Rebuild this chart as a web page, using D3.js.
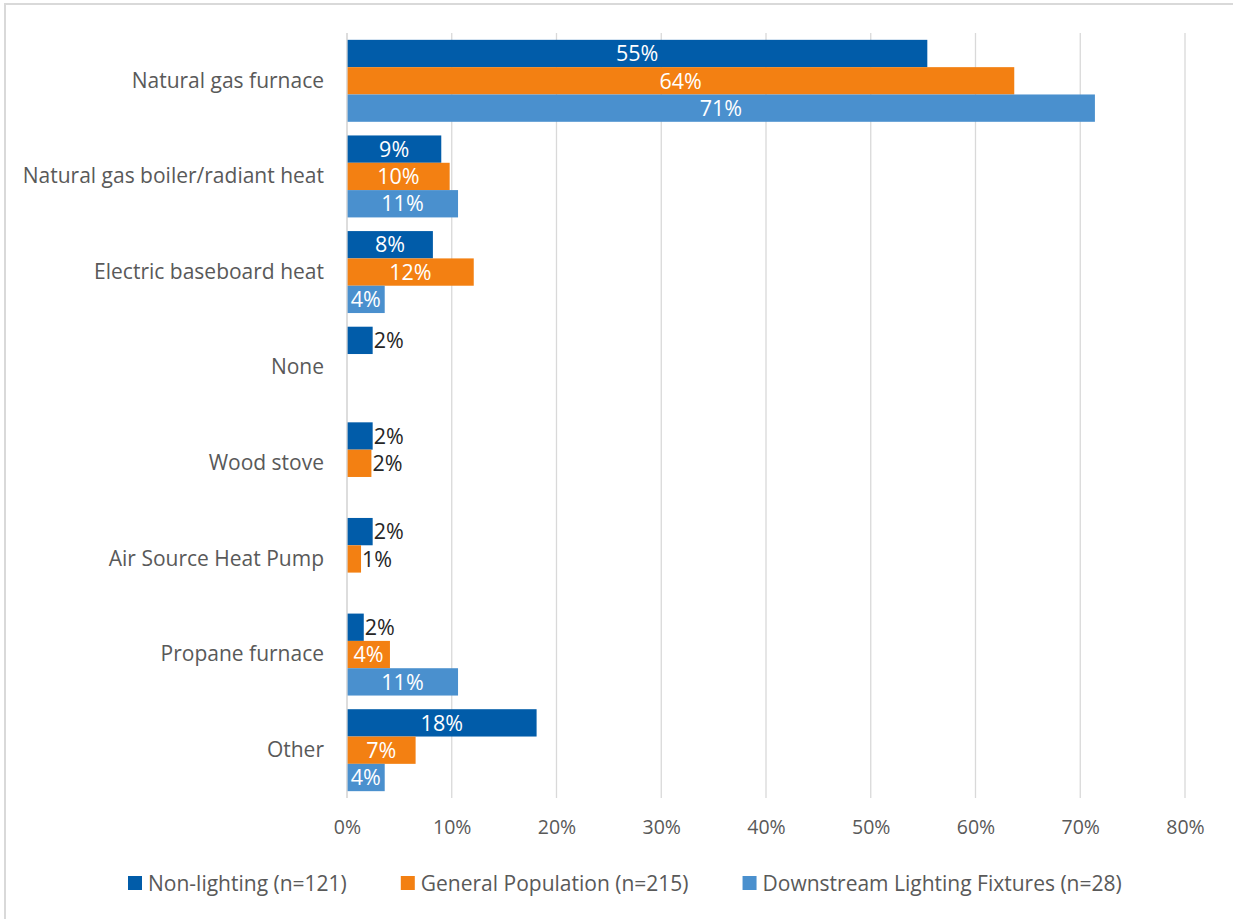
<!DOCTYPE html>
<html>
<head>
<meta charset="utf-8">
<script src="https://cdn.jsdelivr.net/npm/d3@7"></script>
<style>
  html, body { margin: 0; padding: 0; background: #fff; }
  svg { display: block; }
  text { font-family: "Open Sans", Lato, sans-serif; }
</style>
</head>
<body>
<svg id="chart" width="1233" height="919"></svg>
<script>
const categories = [
  "Natural gas furnace",
  "Natural gas boiler/radiant heat",
  "Electric baseboard heat",
  "None",
  "Wood stove",
  "Air Source Heat Pump",
  "Propane furnace",
  "Other"
];
const seriesNames = [
  "Non-lighting (n=121)",
  "General Population (n=215)",
  "Downstream Lighting Fixtures (n=28)"
];
const nonLighting   = [0.554, 0.090, 0.082, 0.0245, 0.0245, 0.0245, 0.016, 0.181];
const generalPop    = [0.637, 0.098, 0.121, null,   0.0233, 0.0134, 0.041, 0.0655];
const downstream    = [0.714, 0.106, 0.036, null,   null,   null,   0.106, 0.036];
const seriesValues = [nonLighting, generalPop, downstream];
const colors = ["#015CA9", "#F38012", "#4A90CE"];
const xTicks = [0, 0.1, 0.2, 0.3, 0.4, 0.5, 0.6, 0.7, 0.8];

const FONT = '"Open Sans", Lato, sans-serif';
const svg = d3.select("#chart");

// outer border
svg.append("rect")
  .attr("x", 5).attr("y", 4).attr("width", 1240).attr("height", 930)
  .attr("fill", "#fff").attr("stroke", "#D9D9D9").attr("stroke-width", 2);

const plot = { left: 347, right: 1185, top: 33, bottom: 798 };

const x = d3.scaleLinear().domain([0, 0.8]).range([plot.left, plot.right]);
const y0 = d3.scaleBand().domain(categories).range([plot.top, plot.bottom]).padding(0);
const y1 = d3.scaleBand().domain(d3.range(3)).range([0, y0.bandwidth()]).paddingInner(0).paddingOuter(0.25);

// gridlines
svg.append("g").selectAll("line").data(xTicks).join("line")
  .attr("x1", d => x(d)).attr("x2", d => x(d))
  .attr("y1", plot.top).attr("y2", plot.bottom)
  .attr("stroke", "#D9D9D9").attr("stroke-width", 1.3);

// x axis tick labels
const xAxis = d3.axisBottom(x).tickValues(xTicks).tickFormat(d3.format(".0%")).tickSize(0).tickPadding(0);
const gx = svg.append("g").attr("transform", `translate(0, ${plot.bottom + 22})`).call(xAxis);
gx.select(".domain").remove();
gx.selectAll("text").attr("fill", "#595959").attr("font-size", 19.5).attr("dy", "0.71em")
  .style("font-family", FONT);

// y axis category labels
const yAxis = d3.axisLeft(y0).tickSize(0).tickPadding(23);
const gy = svg.append("g").attr("transform", `translate(${plot.left}, 0)`).call(yAxis);
gy.select(".domain").remove();
gy.selectAll("text").attr("fill", "#595959").attr("font-size", 21)
  .style("font-family", FONT);

// bars
const rows = [];
categories.forEach((c, i) => {
  seriesValues.forEach((vals, s) => {
    if (vals[i] != null) rows.push({ cat: c, s, v: vals[i] });
  });
});

const g = svg.append("g");
g.selectAll("rect").data(rows).join("rect")
  .attr("x", x(0))
  .attr("y", d => y0(d.cat) + y1(d.s))
  .attr("width", d => x(d.v) - x(0))
  .attr("height", y1.bandwidth())
  .attr("fill", d => colors[d.s]);

// data labels
const fmt = v => Math.round(v * 100) + "%";
const labels = g.selectAll("text.lbl").data(rows).join("text")
  .attr("class", "lbl")
  .attr("font-size", 21.5)
  .attr("y", d => y0(d.cat) + y1(d.s) + y1.bandwidth() / 2)
  .attr("dy", "0.36em")
  .text(d => fmt(d.v));
labels.each(function(d) {
  const w = this.getComputedTextLength();
  const bw = x(d.v) - x(0);
  const t = d3.select(this);
  if (bw >= w + 2) {
    t.attr("x", x(0) + bw / 2).attr("text-anchor", "middle").attr("fill", "#fff");
  } else {
    t.attr("x", x(d.v) + 1).attr("text-anchor", "start").attr("fill", "#262626");
  }
});

// left axis line
svg.append("line").attr("x1", plot.left).attr("x2", plot.left)
  .attr("y1", plot.top).attr("y2", plot.bottom)
  .attr("stroke", "#D9D9D9").attr("stroke-width", 1.3);

// legend
const leg = svg.append("g");
const items = leg.selectAll("g").data(seriesNames).join("g");
items.append("rect").attr("width", 14).attr("height", 14).attr("y", -7)
  .attr("fill", (d, i) => colors[i]);
items.append("text").attr("x", 20).attr("dy", "0.36em").attr("font-size", 21)
  .attr("fill", "#595959").text(d => d);
let cx = 128;
items.each(function() {
  const it = d3.select(this);
  it.attr("transform", `translate(${cx}, 883)`);
  cx += 20 + it.select("text").node().getComputedTextLength() + 54;
});
</script>
</body>
</html>
